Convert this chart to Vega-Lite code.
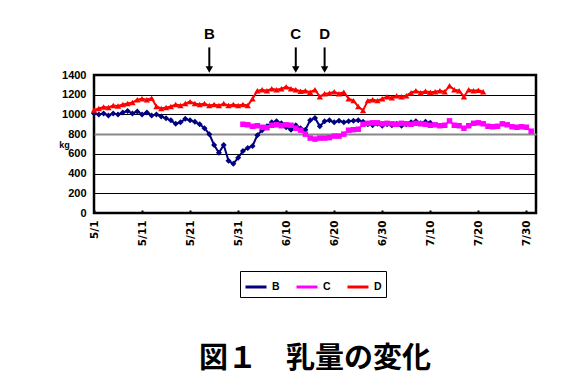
{
  "$schema": "https://vega.github.io/schema/vega-lite/v6.json",
  "width": 442,
  "height": 138,
  "autosize": {"type": "none"},
  "padding": {"left": 94, "top": 75, "right": 27, "bottom": 163},
  "background": "white",
  "title": {
    "text": "図１　乳量の変化",
    "orient": "bottom",
    "anchor": "middle",
    "font": "Noto Sans CJK JP",
    "fontSize": 29,
    "fontWeight": "bold",
    "color": "black",
    "offset": 47
  },
  "config": {
    "view": {"stroke": "black", "strokeWidth": 2.5},
    "font": "Liberation Sans"
  },
  "datasets": {
    "milk": [
      {"d": "2000/05/01", "B": 1010, "D": 1045},
      {"d": "2000/05/02", "B": 1000, "D": 1060},
      {"d": "2000/05/03", "B": 1010, "D": 1075},
      {"d": "2000/05/04", "B": 990, "D": 1070},
      {"d": "2000/05/05", "B": 1010, "D": 1090},
      {"d": "2000/05/06", "B": 1000, "D": 1085},
      {"d": "2000/05/07", "B": 1020, "D": 1100},
      {"d": "2000/05/08", "B": 1035, "D": 1110},
      {"d": "2000/05/09", "B": 1010, "D": 1120},
      {"d": "2000/05/10", "B": 1030, "D": 1150},
      {"d": "2000/05/11", "B": 1000, "D": 1160},
      {"d": "2000/05/12", "B": 1020, "D": 1150},
      {"d": "2000/05/13", "B": 990, "D": 1165},
      {"d": "2000/05/14", "B": 1000, "D": 1080},
      {"d": "2000/05/15", "B": 980, "D": 1060},
      {"d": "2000/05/16", "B": 960, "D": 1070},
      {"d": "2000/05/17", "B": 940, "D": 1080},
      {"d": "2000/05/18", "B": 905, "D": 1100},
      {"d": "2000/05/19", "B": 920, "D": 1090},
      {"d": "2000/05/20", "B": 955, "D": 1110},
      {"d": "2000/05/21", "B": 940, "D": 1130},
      {"d": "2000/05/22", "B": 925, "D": 1110},
      {"d": "2000/05/23", "B": 900, "D": 1100},
      {"d": "2000/05/24", "B": 860, "D": 1110},
      {"d": "2000/05/25", "B": 800, "D": 1090},
      {"d": "2000/05/26", "B": 690, "D": 1100},
      {"d": "2000/05/27", "B": 610, "D": 1090},
      {"d": "2000/05/28", "B": 690, "D": 1110},
      {"d": "2000/05/29", "B": 530, "D": 1090},
      {"d": "2000/05/30", "B": 500, "D": 1100},
      {"d": "2000/05/31", "B": 560, "D": 1090},
      {"d": "2000/06/01", "B": 630, "C": 900, "D": 1100},
      {"d": "2000/06/02", "B": 660, "C": 895, "D": 1090},
      {"d": "2000/06/03", "B": 680, "C": 880, "D": 1160},
      {"d": "2000/06/04", "B": 790, "C": 885, "D": 1240},
      {"d": "2000/06/05", "B": 840, "C": 870, "D": 1250},
      {"d": "2000/06/06", "B": 880, "C": 865, "D": 1240},
      {"d": "2000/06/07", "B": 920, "C": 890, "D": 1260},
      {"d": "2000/06/08", "B": 930, "C": 895, "D": 1250},
      {"d": "2000/06/09", "B": 910, "C": 885, "D": 1260},
      {"d": "2000/06/10", "B": 870, "C": 895, "D": 1280},
      {"d": "2000/06/11", "B": 845, "C": 890, "D": 1260},
      {"d": "2000/06/12", "B": 890, "C": 860, "D": 1250},
      {"d": "2000/06/13", "B": 860, "C": 840, "D": 1235},
      {"d": "2000/06/14", "B": 845, "C": 800, "D": 1240},
      {"d": "2000/06/15", "B": 940, "C": 760, "D": 1225},
      {"d": "2000/06/16", "B": 965, "C": 750, "D": 1250},
      {"d": "2000/06/17", "B": 880, "C": 760, "D": 1180},
      {"d": "2000/06/18", "B": 930, "C": 760, "D": 1210},
      {"d": "2000/06/19", "B": 940, "C": 765, "D": 1215},
      {"d": "2000/06/20", "B": 920, "C": 780, "D": 1230},
      {"d": "2000/06/21", "B": 935, "C": 780, "D": 1210},
      {"d": "2000/06/22", "B": 920, "C": 800, "D": 1225},
      {"d": "2000/06/23", "B": 930, "C": 840, "D": 1160},
      {"d": "2000/06/24", "B": 935, "C": 845, "D": 1140},
      {"d": "2000/06/25", "B": 940, "C": 850, "D": 1080},
      {"d": "2000/06/26", "B": 925, "C": 900, "D": 1040},
      {"d": "2000/06/27", "B": 900, "C": 910, "D": 1140},
      {"d": "2000/06/28", "B": 890, "C": 915, "D": 1150},
      {"d": "2000/06/29", "B": 905, "C": 915, "D": 1140},
      {"d": "2000/06/30", "B": 885, "C": 905, "D": 1160},
      {"d": "2000/07/01", "B": 900, "C": 910, "D": 1180},
      {"d": "2000/07/02", "B": 890, "C": 905, "D": 1170},
      {"d": "2000/07/03", "B": 905, "C": 900, "D": 1190},
      {"d": "2000/07/04", "B": 885, "C": 910, "D": 1180},
      {"d": "2000/07/05", "B": 900, "C": 905, "D": 1190},
      {"d": "2000/07/06", "B": 920, "C": 900, "D": 1220},
      {"d": "2000/07/07", "B": 930, "C": 910, "D": 1240},
      {"d": "2000/07/08", "B": 910, "C": 905, "D": 1220},
      {"d": "2000/07/09", "B": 925, "C": 900, "D": 1235},
      {"d": "2000/07/10", "B": 915, "C": 890, "D": 1225},
      {"d": "2000/07/11", "C": 895, "D": 1230},
      {"d": "2000/07/12", "C": 885, "D": 1240},
      {"d": "2000/07/13", "C": 890, "D": 1230},
      {"d": "2000/07/14", "C": 935, "D": 1290},
      {"d": "2000/07/15", "C": 890, "D": 1250},
      {"d": "2000/07/16", "C": 885, "D": 1240},
      {"d": "2000/07/17", "C": 860, "D": 1180},
      {"d": "2000/07/18", "C": 885, "D": 1250},
      {"d": "2000/07/19", "C": 910, "D": 1240},
      {"d": "2000/07/20", "C": 915, "D": 1245},
      {"d": "2000/07/21", "C": 905, "D": 1230},
      {"d": "2000/07/22", "C": 880},
      {"d": "2000/07/23", "C": 875},
      {"d": "2000/07/24", "C": 880},
      {"d": "2000/07/25", "C": 905},
      {"d": "2000/07/26", "C": 895},
      {"d": "2000/07/27", "C": 875},
      {"d": "2000/07/28", "C": 870},
      {"d": "2000/07/29", "C": 875},
      {"d": "2000/07/30", "C": 870},
      {"d": "2000/07/31", "C": 830}
    ],
    "arrows": [
      {"d": "2000/05/25", "label": "B"},
      {"d": "2000/06/12", "label": "C"},
      {"d": "2000/06/18", "label": "D"}
    ]
  },
  "layer": [
    {
      "data": {"name": "milk"},
      "transform": [
        {"fold": ["B", "C", "D"], "as": ["series", "kg"]},
        {"filter": "isValid(datum.kg)"}
      ],
      "mark": {"type": "line", "strokeWidth": 2},
      "encoding": {
        "x": {
          "field": "d",
          "type": "temporal",
          "scale": {"domain": [{"year": 2000, "month": 5, "date": 1}, {"year": 2000, "month": 8, "date": 1}]},
          "axis": {
            "values": [
              {"year": 2000, "month": 5, "date": 1},
              {"year": 2000, "month": 5, "date": 11},
              {"year": 2000, "month": 5, "date": 21},
              {"year": 2000, "month": 5, "date": 31},
              {"year": 2000, "month": 6, "date": 10},
              {"year": 2000, "month": 6, "date": 20},
              {"year": 2000, "month": 6, "date": 30},
              {"year": 2000, "month": 7, "date": 10},
              {"year": 2000, "month": 7, "date": 20},
              {"year": 2000, "month": 7, "date": 30}
            ],
            "tickCount": 10,
            "format": "%-m/%-d",
            "labelAngle": 270,
            "labelAlign": "right",
            "labelBaseline": "middle",
            "labelFont": "DejaVu Sans",
            "labelFontWeight": "bold",
            "labelFontSize": 10.5,
            "labelColor": "black",
            "labelPadding": 10,
            "labelFlush": false,
            "labelOverlap": false,
            "tickSize": -3,
            "tickColor": "black",
            "tickWidth": 2,
            "domain": false,
            "grid": false,
            "title": null
          }
        },
        "y": {
          "field": "kg",
          "type": "quantitative",
          "scale": {"domain": [0, 1400], "nice": false},
          "axis": {
            "values": [0, 200, 400, 600, 800, 1000, 1200, 1400],
            "tickCount": 8,
            "format": "d",
            "labelOverlap": false,
            "grid": true,
            "gridColor": {"condition": {"test": "datum.value === 800", "value": "#888888"}, "value": "black"},
            "gridWidth": {"condition": {"test": "datum.value === 800", "value": 2}, "value": 1},
            "gridOpacity": 1,
            "ticks": false,
            "domain": false,
            "labelFontWeight": "bold",
            "labelFontSize": 11,
            "labelColor": "black",
            "labelPadding": 8,
            "title": "kg",
            "titleAngle": 0,
            "titleX": -30,
            "titleY": 69,
            "titleAlign": "center",
            "titleBaseline": "middle",
            "titleFontSize": 9,
            "titleFontWeight": "bold",
            "titleColor": "black"
          }
        },
        "color": {
          "field": "series",
          "type": "nominal",
          "scale": {"domain": ["B", "C", "D"], "range": ["#000080", "#FF00FF", "#FF0000"]},
          "legend": {
            "title": null,
            "orient": "none",
            "legendX": 146,
            "legendY": 196,
            "direction": "horizontal",
            "columns": 3,
            "columnPadding": 10,
            "symbolType": "stroke",
            "symbolSize": 441,
            "symbolStrokeWidth": 3,
            "labelFontWeight": "bold",
            "labelFontSize": 10.5,
            "labelColor": "black",
            "labelOffset": 4,
            "strokeColor": "black",
            "padding": 4
          }
        }
      }
    },
    {
      "data": {"name": "milk"},
      "transform": [
        {"fold": ["B", "C", "D"], "as": ["series", "kg"]},
        {"filter": "isValid(datum.kg) && datum.series === 'B'"}
      ],
      "mark": {"type": "point", "shape": "diamond", "filled": true, "color": "#000080", "size": 36, "opacity": 1},
      "encoding": {
        "x": {"field": "d", "type": "temporal"},
        "y": {"field": "kg", "type": "quantitative"}
      }
    },
    {
      "data": {"name": "milk"},
      "transform": [
        {"fold": ["B", "C", "D"], "as": ["series", "kg"]},
        {"filter": "isValid(datum.kg) && datum.series === 'C'"}
      ],
      "mark": {"type": "point", "shape": "square", "filled": true, "color": "#FF00FF", "size": 30, "opacity": 1},
      "encoding": {
        "x": {"field": "d", "type": "temporal"},
        "y": {"field": "kg", "type": "quantitative"}
      }
    },
    {
      "data": {"name": "milk"},
      "transform": [
        {"fold": ["B", "C", "D"], "as": ["series", "kg"]},
        {"filter": "isValid(datum.kg) && datum.series === 'D'"}
      ],
      "mark": {"type": "point", "shape": "triangle-up", "filled": true, "color": "#FF0000", "size": 40, "opacity": 1},
      "encoding": {
        "x": {"field": "d", "type": "temporal"},
        "y": {"field": "kg", "type": "quantitative"}
      }
    },
    {
      "data": {"name": "arrows"},
      "mark": {"type": "rule", "strokeWidth": 2, "color": "black"},
      "encoding": {
        "x": {"field": "d", "type": "temporal"},
        "y": {"datum": 1680},
        "y2": {"datum": 1460}
      }
    },
    {
      "data": {"name": "arrows"},
      "mark": {"type": "point", "shape": "triangle-down", "filled": true, "color": "black", "size": 55, "opacity": 1},
      "encoding": {
        "x": {"field": "d", "type": "temporal"},
        "y": {"datum": 1455}
      }
    },
    {
      "data": {"name": "arrows"},
      "mark": {"type": "text", "fontSize": 15, "fontWeight": "bold", "color": "black", "baseline": "middle"},
      "encoding": {
        "x": {"field": "d", "type": "temporal"},
        "y": {"datum": 1820},
        "text": {"field": "label"}
      }
    }
  ]
}
